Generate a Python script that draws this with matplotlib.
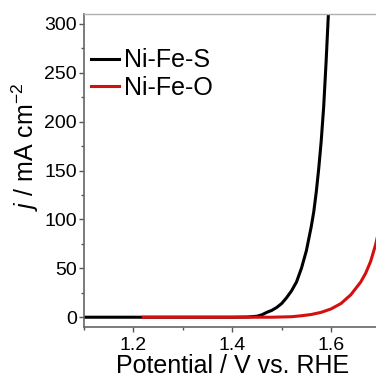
import matplotlib.pyplot as plt
from matplotlib.ticker import MultipleLocator

plt.rcParams['font.family'] = ['Liberation Sans', 'DejaVu Sans']
plt.rcParams['mathtext.fontset'] = 'custom'
plt.rcParams['mathtext.rm'] = 'Liberation Sans'
plt.rcParams['mathtext.it'] = 'Liberation Sans:italic'

# LSV curves
v_s = [1.10, 1.20, 1.30, 1.40, 1.43, 1.45, 1.46, 1.47, 1.48, 1.49, 1.50,
       1.51, 1.52, 1.53, 1.54, 1.55, 1.56, 1.565, 1.57, 1.575, 1.58,
       1.585, 1.59, 1.595, 1.60]
j_s = [0, 0, 0, 0, 0.2, 1, 2.5, 5, 7, 10, 14,
       20, 27, 36, 50, 68, 93, 108, 128, 152, 180,
       215, 262, 315, 370]

v_o = [1.22, 1.30, 1.40, 1.48, 1.52, 1.54, 1.56, 1.58, 1.60, 1.62, 1.64,
       1.66, 1.67, 1.68, 1.69, 1.70]
j_o = [0, 0, 0, 0, 0.5, 1.5, 2.8, 5, 8.5, 14, 23, 36, 45, 57, 74, 96]

labels = ['Ni-Fe-S', 'Ni-Fe-O']

fig = plt.figure(figsize=(3.76, 3.78), dpi=100)
ax = fig.add_axes([84/376, 51/378, 296.5/376, 313/378])

ax.plot(v_s, j_s, color='black', lw=2.2, label=labels[0])
ax.plot(v_o, j_o, color='#d40f0f', lw=2.2, label=labels[1])

ax.set_xlim(1.1, 1.7)
ax.set_ylim(-10, 310)
ax.xaxis.set_minor_locator(MultipleLocator(0.1))
ax.yaxis.set_major_locator(MultipleLocator(50))
ax.yaxis.set_minor_locator(MultipleLocator(25))
ax.set_xticks([1.2, 1.4, 1.6])
ax.set_xticklabels(['1.2', '1.4', '1.6'])

ax.tick_params(which='major', direction='out', length=3.5, width=1,
               color='#555555', labelsize=14, pad=1.5)
ax.tick_params(axis='x', which='major', pad=4)
ax.tick_params(which='minor', direction='out', length=2, width=1,
               color='#555555')
ax.tick_params(top=False, right=False)

for s in ['left', 'bottom']:
    ax.spines[s].set_color('#666666')
    ax.spines[s].set_linewidth(1.2)
ax.spines['top'].set_color('#b0b0b0')
ax.spines['top'].set_linewidth(1)
ax.spines['right'].set_visible(False)

ax.set_xlabel('Potential / V vs. RHE', fontsize=18, labelpad=0)
ax.set_ylabel('$j$ / mA cm$^{-2}$', fontsize=18)
ax.yaxis.set_label_coords(-0.145, 0.575)

ax.legend(loc='upper left', bbox_to_anchor=(0.025, 0.89), frameon=False,
          fontsize=18, handlelength=1.1, handletextpad=0.2,
          labelspacing=0.15, borderaxespad=0, borderpad=0)

fig.savefig('out.png', dpi=100)
